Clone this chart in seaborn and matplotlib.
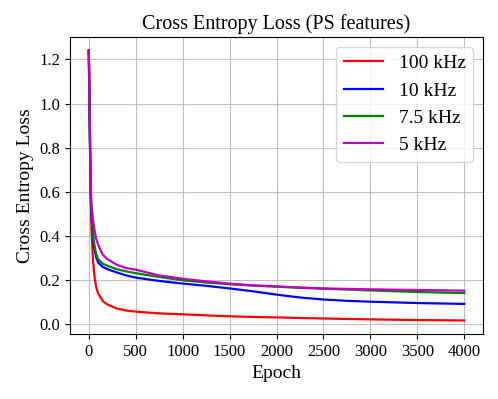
"""
Cross entropy loss curves per sampling rate (PS features).
"""

import pandas as pd
import seaborn as sns
import matplotlib
matplotlib.use("Agg")
import matplotlib.pyplot as plt

epochs = [0, 10, 20, 30, 43, 60, 78, 100, 150, 200, 300, 400, 500, 750, 1000,
          1250, 1500, 1750, 2000, 2250, 2500, 2750, 3000, 3500, 4000]

loss_100khz = [1.24, 0.90, 0.60, 0.42, 0.30, 0.22, 0.17, 0.14, 0.105, 0.09, 0.072, 0.063, 0.058,
               0.05, 0.046, 0.041, 0.037, 0.034, 0.032, 0.029, 0.027, 0.025, 0.023, 0.02, 0.018]
loss_10khz = [1.24, 0.90, 0.58, 0.48, 0.40, 0.34, 0.305, 0.28, 0.26, 0.25, 0.235, 0.222, 0.212,
              0.197, 0.185, 0.175, 0.163, 0.15, 0.135, 0.122, 0.113, 0.107, 0.103, 0.097, 0.093]
loss_7_5khz = [1.24, 0.90, 0.60, 0.50, 0.42, 0.36, 0.32, 0.295, 0.275, 0.265, 0.25, 0.24, 0.232,
               0.215, 0.20, 0.19, 0.182, 0.176, 0.171, 0.166, 0.162, 0.158, 0.154, 0.147, 0.142]
loss_5khz = [1.24, 0.95, 0.62, 0.53, 0.48, 0.43, 0.39, 0.36, 0.315, 0.295, 0.27, 0.255, 0.248,
             0.222, 0.207, 0.195, 0.185, 0.177, 0.172, 0.167, 0.163, 0.161, 0.159, 0.156, 0.153]

labels = ["100 kHz", "10 kHz", "7.5 kHz", "5 kHz"]
colors = ["#ff0000", "#0000ff", "#008000", "#bf00bf"]

series = [loss_100khz, loss_10khz, loss_7_5khz, loss_5khz]
df = pd.concat(
    [pd.DataFrame({"Epoch": epochs, "Loss": vals, "Rate": lab}) for lab, vals in zip(labels, series)],
    ignore_index=True,
)

plt.rcParams["font.family"] = ["Liberation Serif", "DejaVu Serif"]

fig, ax = plt.subplots(figsize=(4.98, 3.99), dpi=100)
fig.subplots_adjust(left=0.1406, right=0.97, top=0.907, bottom=0.163)

sns.lineplot(data=df, x="Epoch", y="Loss", hue="Rate", hue_order=labels,
             palette=colors, linewidth=1.6, ax=ax, estimator=None, sort=False)

ax.grid(True, color="#b0b0b0", linewidth=0.8, alpha=0.8)
ax.set_axisbelow(True)
ax.set_title("Cross Entropy Loss (PS features)", fontsize=14.5)
ax.set_xlabel("Epoch", fontsize=14)
ax.set_ylabel("Cross Entropy Loss", fontsize=14)
ax.tick_params(labelsize=12)
ax.set_xticks(range(0, 4001, 500))
ax.set_yticks([0.0, 0.2, 0.4, 0.6, 0.8, 1.0, 1.2])
for spine in ax.spines.values():
    spine.set_color("black")

handles, _ = ax.get_legend_handles_labels()
ax.legend(handles, labels, loc="upper right", fontsize=14, framealpha=0.8)

fig.savefig("out.png", dpi=100)
plt.close(fig)
